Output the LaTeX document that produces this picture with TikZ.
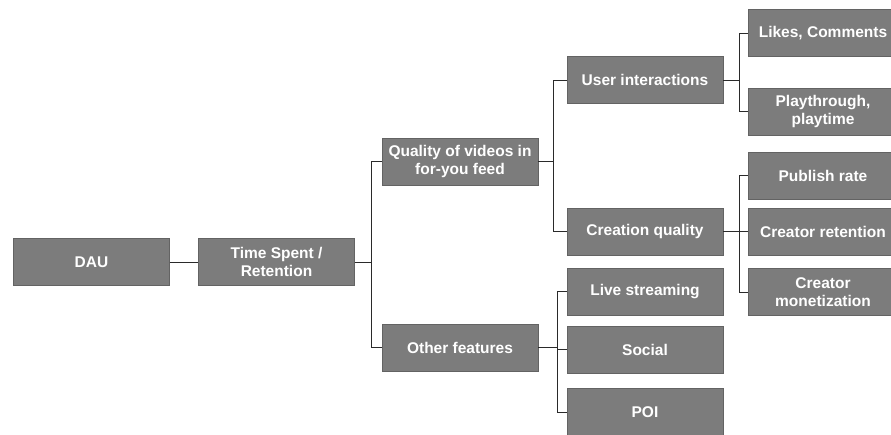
\documentclass[tikz,border=0pt]{standalone}
\usepackage{fontspec}
\setmainfont{Liberation Sans}
\usetikzlibrary{positioning}
\definecolor{boxgray}{HTML}{7C7C7C}
\definecolor{linegray}{HTML}{2A2A2A}
\tikzset{
  box/.style={draw=boxgray!80!black, fill=boxgray, shape=rectangle, minimum width=156pt, minimum height=47pt, inner sep=1pt, align=center, text=white, font=\bfseries\fontsize{15.5}{17.5}\selectfont},
  leafbox/.style={box, minimum width=150pt},
  link/.style={draw=linegray, line width=0.9pt}
}
\begin{document}
\begin{tikzpicture}[x=1pt,y=-1pt]
\useasboundingbox (0,0) rectangle (891,435);
\node[box] (dau) at (91.5,262) {DAU};
\node[box] (ts) at (276.5,262) {Time Spent /\\Retention};
\node[box] (qual) at (460,161.5) {Quality of videos in\\for-you feed};
\node[box] (other) at (460,347.5) {Other features};
\node[box] (ui) at (645,80) {User interactions};
\node[box] (cq) at (645,231.5) {Creation quality};
\node[box] (live) at (645,291.5) {Live streaming};
\node[box] (social) at (645,349.5) {Social};
\node[box] (poi) at (645,412) {POI};
\node[leafbox] (likes) at (823,33) {Likes, Comments};
\node[leafbox] (play) at (823,111.5) {Playthrough,\\playtime};
\node[leafbox] (pub) at (823,175.5) {Publish rate};
\node[leafbox] (cret) at (823,231.5) {Creator retention};
\node[leafbox] (cmon) at (823,292) {Creator\\monetization};
% level 0 -> 1
\draw[link] (dau.east) -- (ts.west);
\draw[link] (ts.east) -- ++(17,0) coordinate (b1);
\draw[link] (qual.west) -| (b1);
\draw[link] (other.west) -| (b1);
% quality branch
\draw[link] (qual.east) -- ++(15,0) coordinate (b2);
\draw[link] (ui.west) -| (b2);
\draw[link] (cq.west) -| (b2);
% other features branch
\draw[link] (other.east) -- ++(19,0) coordinate (b3);
\draw[link] (live.west) -| (b3);
\draw[link] (social.west) -| (b3);
\draw[link] (poi.west) -| (b3);
% user interactions branch
\draw[link] (ui.east) -- ++(16,0) coordinate (b4);
\draw[link] (likes.west) -| (b4);
\draw[link] (play.west) -| (b4);
% creation quality branch
\draw[link] (cq.east) -- ++(16,0) coordinate (b5);
\draw[link] (pub.west) -| (b5);
\draw[link] (cret.west) -- (b5);
\draw[link] (cmon.west) -| (b5);
\end{tikzpicture}
\end{document}
